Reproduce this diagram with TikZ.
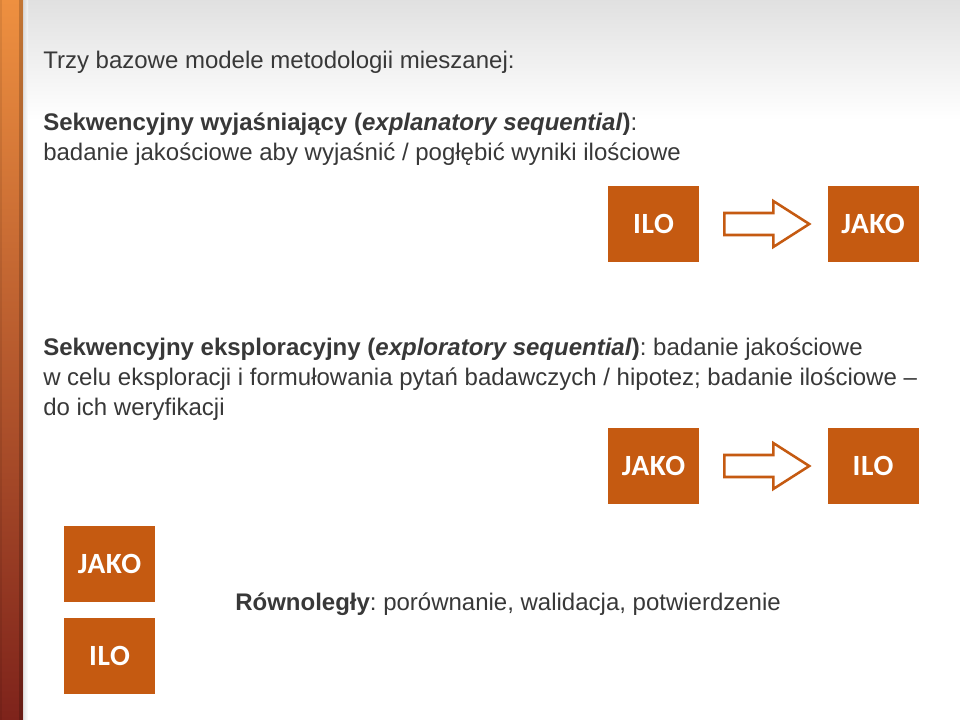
\documentclass[tikz,border=0pt]{standalone}
\usepackage{fontspec}
\setmainfont{Liberation Sans}
\newfontfamily\boxfont[LetterSpace=2]{Carlito}
\frenchspacing
\usetikzlibrary{calc,positioning}

\definecolor{accent}{HTML}{C55A11}
\definecolor{txtgray}{HTML}{383838}
\definecolor{barTop}{HTML}{EE9040}
\definecolor{barMid}{HTML}{E3701C}
\definecolor{barBot}{HTML}{7E231B}

\tikzset{
  txtline/.style={anchor=base west, inner sep=0pt, text=txtgray,
    font=\fontsize{18}{22}\selectfont},
  box/.style={fill=accent, minimum width=68.25pt, minimum height=57pt,
    inner sep=0pt, text=white, font=\boxfont\bfseries\fontsize{22}{26}\selectfont},
  blockarrow/.style={draw=accent, line width=1.9pt, fill=white, line join=miter}
}

\begin{document}
\begin{tikzpicture}[x=0.75pt,y=-0.75pt]
\useasboundingbox (0,0) rectangle (960,720);
% background
\fill[white] (0,0) rectangle (960,720);
\shade[top color=black!12, bottom color=white] (0,0) rectangle (960,120);
% side bar
\shade[top color=barTop, middle color=barMid, bottom color=barBot] (0,0) rectangle (23,720);
\fill[black, opacity=.18] (19,0) rectangle (23,720);
\fill[black, opacity=.08] (0,0) rectangle (2,720);
\shade[left color=black!18, right color=white, opacity=.6] (23,0) rectangle (28,720);

% texts
\node[txtline] (title) at (43,69) {Trzy bazowe modele metodologii mieszanej:};
\node[txtline] (expl1) at (43,131) {\textbf{Sekwencyjny wyjaśniający (\textit{explanatory sequential})}:};
\node[txtline] (expl2) at (43,161) {badanie jakościowe aby wyjaśnić / pogłębić wyniki ilościowe};
\node[txtline] (expo1) at (43,355) {\textbf{Sekwencyjny eksploracyjny (\textit{exploratory sequential})}: badanie jakościowe};
\node[txtline] (expo2) at (43,385) {w celu eksploracji i formułowania pytań badawczych / hipotez; badanie ilościowe --};
\node[txtline] (expo3) at (43,415) {do ich weryfikacji};
\node[txtline] (parallel) at (235,610) {\textbf{Równoległy}: porównanie, walidacja, potwierdzenie};

% explanatory sequential
\node[box] (ilo1) at (653.5,224) {ILO};
\node[box, right=96pt of ilo1] (jako1) {JAKO};
\draw[blockarrow] ($(ilo1.east)+(25,-11)$) -- ++(49,0) -- ++(0,-12) -- ($(ilo1.east)+(110,0)$)
  -- ($(ilo1.east)+(74,23)$) -- ++(0,-12) -- ++(-49,0) -- cycle;

% exploratory sequential
\node[box] (jako2) at (653.5,466) {JAKO};
\node[box, right=96pt of jako2] (ilo2) {ILO};
\draw[blockarrow] ($(jako2.east)+(25,-11)$) -- ++(49,0) -- ++(0,-12) -- ($(jako2.east)+(110,0)$)
  -- ($(jako2.east)+(74,23)$) -- ++(0,-12) -- ++(-49,0) -- cycle;

% parallel
\node[box] (jako3) at (109.5,564) {JAKO};
\node[box, below=11.25pt of jako3] (ilo3) {ILO};
\end{tikzpicture}
\end{document}
